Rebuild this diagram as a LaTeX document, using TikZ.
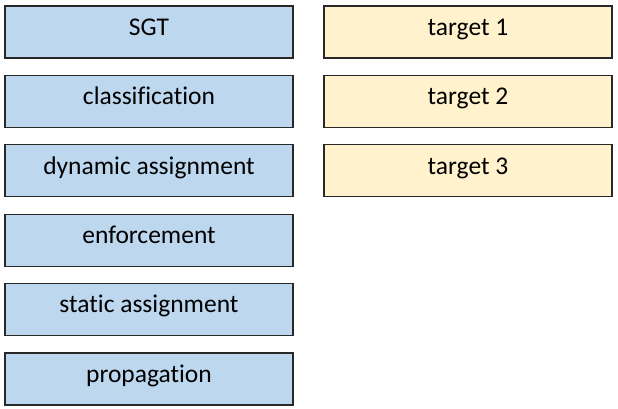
\documentclass[tikz,border=0pt]{standalone}
\usepackage{fontspec}
\setmainfont[Ligatures=NoCommon]{Carlito}
\usetikzlibrary{positioning}
\definecolor{boxblue}{RGB}{189,215,238}
\definecolor{boxyellow}{RGB}{255,242,204}
\definecolor{boxline}{RGB}{40,40,40}
\tikzset{
  box/.style={rectangle, draw=boxline, line width=1.2pt, minimum width=288pt, minimum height=52pt, inner sep=0pt, text height=0.75em, text depth=0.1em, font=\fontsize{25.5}{30}\selectfont},
  sgt/.style={box, fill=boxblue},
  tgt/.style={box, fill=boxyellow}
}
\begin{document}
\begin{tikzpicture}[x=1pt,y=-1pt]
    \useasboundingbox (0,0) rectangle (618,409);
    % left column
    \foreach \i/\name/\text in {
        0/sgt/SGT,
        1/cls/classification,
        2/dyn/dynamic assignment,
        3/enf/enforcement,
        4/sta/static assignment,
        5/pro/propagation
    } {
        \node[sgt] (\name) at (149,32+69.4*\i) {\text};
    }
    % right column
    \foreach \i in {1,2,3} {
        \node[tgt] (t\i) at (468,32+69.4*\i-69.4) {target \i};
    }
\end{tikzpicture}
\end{document}
